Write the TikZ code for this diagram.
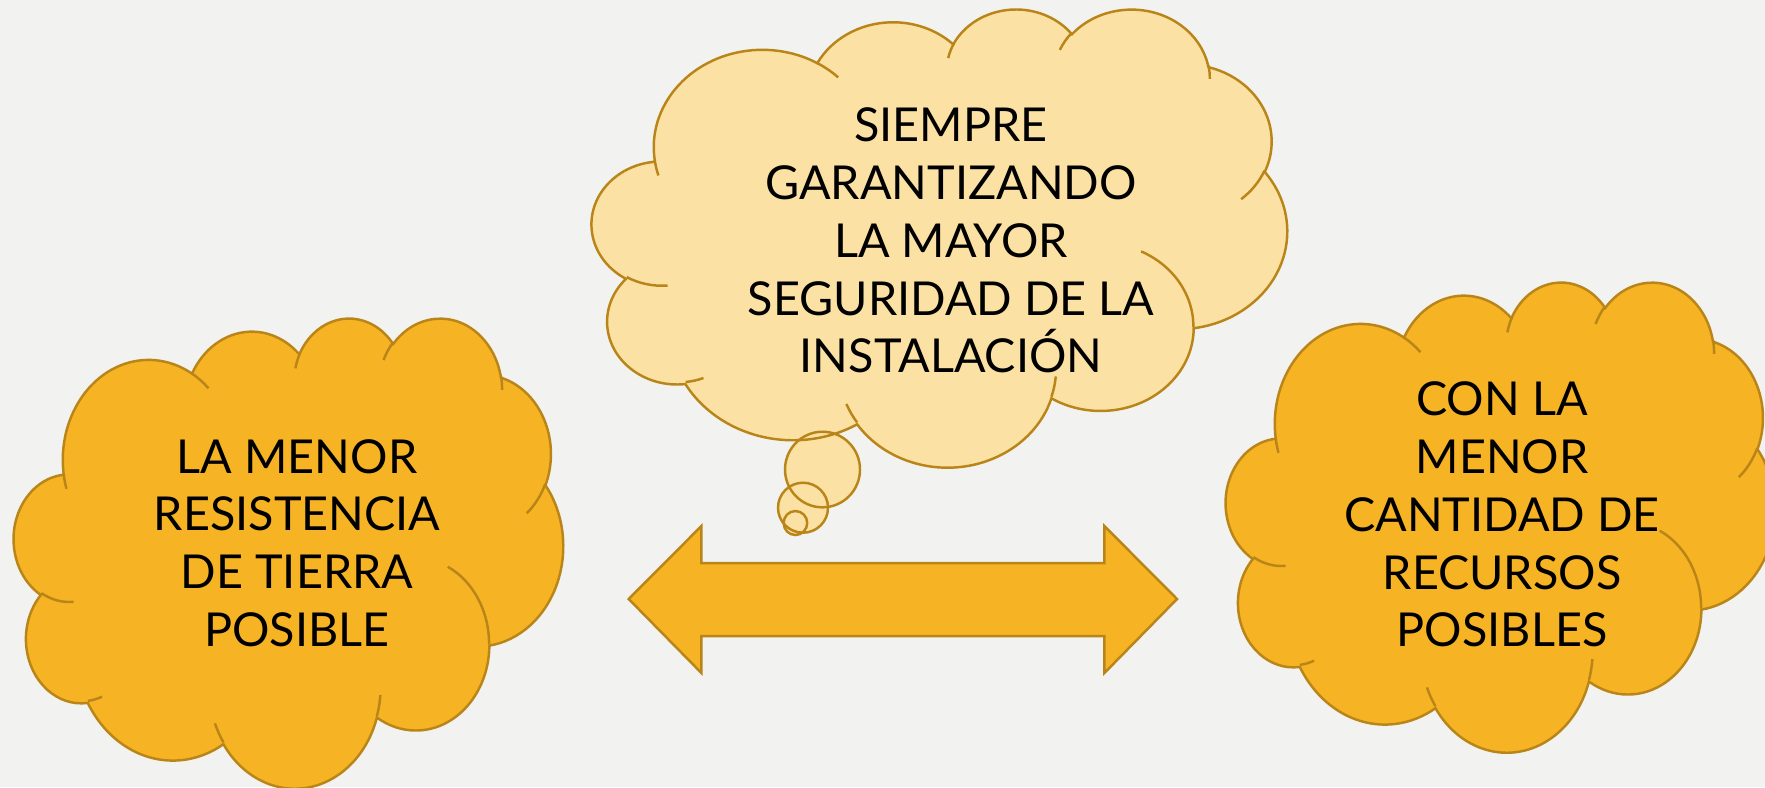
\documentclass[tikz,border=0pt]{standalone}
\usepackage{fontspec}
\setmainfont{Lato}
\definecolor{bgc}{RGB}{242,242,240}
\definecolor{darkfill}{RGB}{246,179,35}
\definecolor{lightfill}{RGB}{251,225,163}
\definecolor{edgec}{RGB}{185,133,25}
\def\carc#1#2#3#4{arc[start angle={atan2((#1)*sin(#3),(#2)*cos(#3))}, delta angle={mod(atan2((#1)*sin((#3)+(#4)),(#2)*cos((#3)+(#4)))-atan2((#1)*sin(#3),(#2)*cos(#3))+720,360)}, x radius=#1, y radius=#2]}
\def\cloudbody{(3.900,14.370)
 \carc{6.753}{9.190}{-190.48748}{123.78053}
 \carc{5.333}{7.267}{-144.10238}{89.94523}
 \carc{4.365}{5.945}{-145.80792}{99.72302}
 \carc{4.857}{6.595}{-130.98607}{117.24173}
 \carc{5.333}{7.273}{-78.70888}{109.02692}
 \carc{6.775}{9.220}{-46.26725}{130.269}
 \carc{5.785}{7.867}{0.62502}{114.03333}
 \carc{6.752}{9.215}{22.4516}{115.17255}
 \carc{7.720}{10.543}{66.24263}{75.71102}
 \carc{4.360}{5.918}{-274.94208}{146.73557}
 \carc{4.345}{5.945}{-246.8285}{152.5195}
 -- cycle}
\def\cloudinner{(4.693,26.177) \carc{4.345}{5.945}{86.742}{26.4295}
 (6.928,34.899) \carc{4.360}{5.918}{73.61047}{11.44747}
 (16.478,39.090) \carc{6.752}{9.215}{137.62415}{14.0811}
 (28.827,34.751) \carc{6.752}{9.215}{6.45327}{15.99835}
 (34.129,22.954) \carc{5.785}{7.867}{-70.29235}{70.91737}
 (41.798,15.354) \carc{5.333}{7.273}{30.31803}{27.7515}
 (38.324,5.426) \carc{4.857}{6.595}{-13.74433}{14.8589}
 (29.078,3.952) \carc{4.857}{6.595}{-149.18145}{18.19537}
 (22.141,4.720) \carc{4.365}{5.945}{-163.49427}{17.68635}
 (14.000,5.192) \carc{6.753}{9.190}{-66.70695}{12.31935}
 (4.127,15.789) \carc{6.753}{9.190}{157.65435}{11.85817}}
\tikzset{
  edge/.style={draw=edgec, line width=0.7pt},
  darkcloud/.style={fill=darkfill, edge},
  lightcloud/.style={fill=lightfill},
  txt/.style={align=center, text=black, inner sep=0pt, font=\fontsize{13.3}{16.45}\selectfont},
}
\begin{document}
\begin{tikzpicture}
\fill[bgc] (0,0) rectangle (17.65,-7.87);
\useasboundingbox (0,0) rectangle (17.65,-7.87);

% central thought cloud
\begin{scope}[shift={(5.92,-0.08)}, xscale=0.160880, yscale=-0.106019]
  \fill[lightcloud] \cloudbody;
\end{scope}
\fill[lightfill] (8.225,-4.695) ellipse [x radius=0.375, y radius=0.378];
\fill[lightfill] (8.03,-5.077) ellipse [x radius=0.25, y radius=0.25];
\fill[lightfill] (7.954,-5.23) ellipse [x radius=0.118, y radius=0.12];
\begin{scope}[shift={(5.92,-0.08)}, xscale=0.160880, yscale=-0.106019]
  \draw[edge] \cloudbody;
  \draw[edge] \cloudinner;
\end{scope}
\draw[edge] (8.225,-4.695) ellipse [x radius=0.375, y radius=0.378];
\draw[edge] (8.03,-5.077) ellipse [x radius=0.25, y radius=0.25];
\draw[edge] (7.954,-5.23) ellipse [x radius=0.118, y radius=0.12];

% left cloud
\begin{scope}[shift={(0.14,-3.17)}, xscale=0.127083, yscale=-0.108796]
  \filldraw[darkcloud] \cloudbody;
  \draw[edge] \cloudinner;
\end{scope}

% right cloud
\begin{scope}[shift={(12.26,-2.81)}, xscale=0.127083, yscale=-0.108796]
  \filldraw[darkcloud] \cloudbody;
  \draw[edge] \cloudinner;
\end{scope}

% double arrow
\filldraw[darkcloud] (6.287,-5.99) -- (7.014,-5.26) -- (7.014,-5.63) -- (11.044,-5.63)
  -- (11.044,-5.26) -- (11.77,-5.99) -- (11.044,-6.73) -- (11.044,-6.36)
  -- (7.014,-6.36) -- (7.014,-6.73) -- cycle;

\node[txt] (tcenter) at (9.51,-2.405) {SIEMPRE\\GARANTIZANDO\\LA MAYOR\\SEGURIDAD DE LA\\INSTALACIÓN};
\node[txt] (tleft) at (2.97,-5.43) {LA MENOR\\RESISTENCIA\\DE TIERRA\\POSIBLE};
\node[txt] (tright) at (15.02,-5.145) {CON LA\\MENOR\\CANTIDAD DE\\RECURSOS\\POSIBLES};
\end{tikzpicture}
\end{document}
